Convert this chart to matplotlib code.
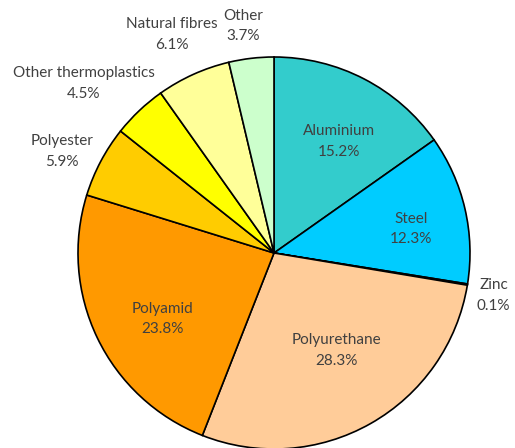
import matplotlib.pyplot as plt
import numpy as np

plt.rcParams['font.family'] = ['Lato', 'DejaVu Sans']

materials = ['Aluminium', 'Steel', 'Zinc', 'Polyurethane', 'Polyamid',
             'Polyester', 'Other thermoplastics', 'Natural fibres', 'Other']
shares = [15.2, 12.3, 0.1, 28.3, 23.8, 5.9, 4.5, 6.1, 3.7]
colors = ['#33CCCC', '#00CCFF', '#9999FF', '#FFCC99', '#FF9900',
          '#FFCC00', '#FFFF00', '#FFFF99', '#CCFFCC']

# label placement (radius as fraction of pie radius, angle in degrees)
lab_r = [0.66, 0.71, 1.14, 0.59, 0.66, 1.20, 1.30, 1.23, 1.17]
lab_a = [59.6, 9.9, -10.9, -57.4, 210.7, 154.4, 138.3, 115.0, 97.8]

fig = plt.figure(figsize=(5.15, 4.48), dpi=100)
ax = fig.add_axes([0, 0, 1, 1])

# pie centre at (274, 253) px, radius 196 px
cy = 253
ax.pie(shares, colors=colors, startangle=90, counterclock=False,
       radius=1.0, wedgeprops=dict(edgecolor='black', linewidth=1.2))

for name, val, r, a in zip(materials, shares, lab_r, lab_a):
    t = np.deg2rad(a)
    ax.text(r * np.cos(t), r * np.sin(t), f'{name}\n{val}%',
            ha='center', va='center', fontsize=11, color='#404040',
            linespacing=1.6)

ax.set_xlim(-274 / 196, (515 - 274) / 196)
ax.set_ylim(-(448 - cy) / 196, cy / 196)
ax.set_aspect('equal')
ax.axis('off')

fig.savefig('out.png', dpi=100)
